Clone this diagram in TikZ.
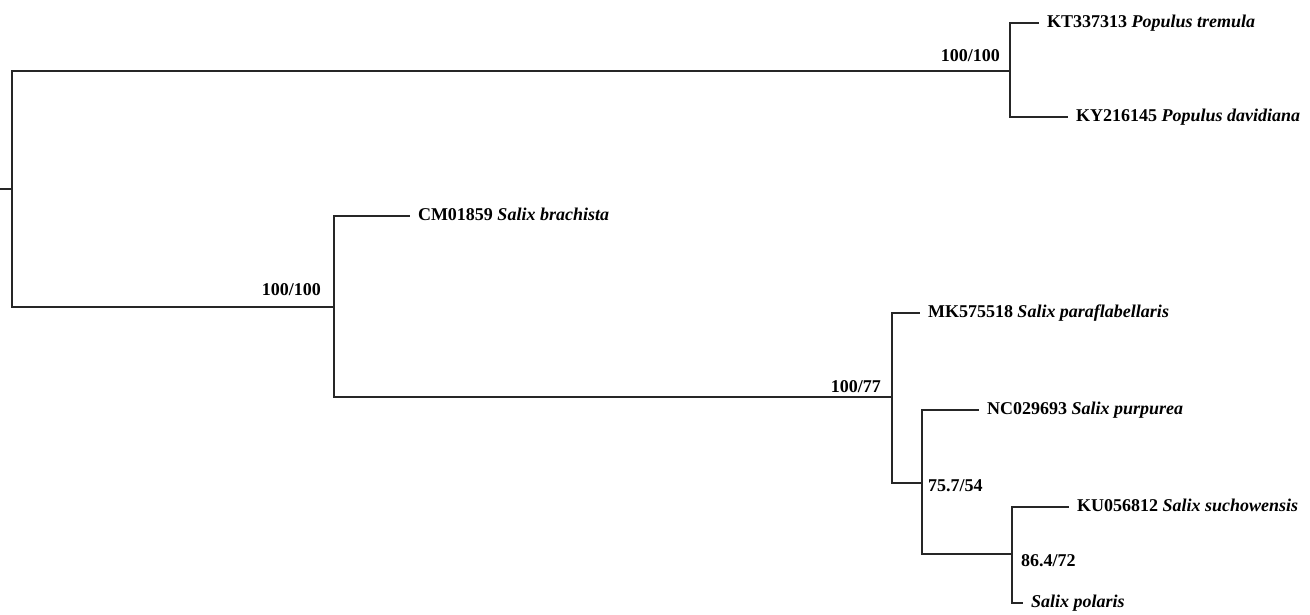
\documentclass[tikz,border=0pt]{standalone}
\usepackage{fontspec}
\setmainfont{Liberation Serif}
\begin{document}
\begin{tikzpicture}[x=1pt,y=-1pt,
  branch/.style={draw=black!85,line width=1.3pt,line cap=rect},
  tip/.style={anchor=west,inner sep=0pt,outer xsep=9pt,text height=12pt,text depth=3pt,
    font=\fontsize{18}{21}\selectfont\bfseries},
  support/.style={inner sep=0pt,font=\fontsize{18}{21}\selectfont\bfseries}]
\useasboundingbox (0,0) rectangle (1310,614);
% internal nodes
\coordinate (stub) at (0,189);
\coordinate (root) at (12,189);
\coordinate (P) at (1010,71);
\coordinate (A) at (334,307);
\coordinate (B) at (892,397);
\coordinate (C) at (922,483);
\coordinate (D) at (1012,554);
% tips
\node[tip] (t1) at (1038,23) {KT337313 \textit{Populus tremula}};
\node[tip] (t2) at (1067,117) {KY216145 \textit{Populus davidiana}};
\node[tip] (t3) at (409,216) {CM01859 \textit{Salix brachista}};
\node[tip] (t4) at (919,313) {MK575518 \textit{Salix paraflabellaris}};
\node[tip] (t5) at (978,410) {NC029693 \textit{Salix purpurea}};
\node[tip] (t6) at (1068,507) {KU056812 \textit{Salix suchowensis}};
\node[tip] (t7) at (1022,603) {\textit{Salix polaris}};
% branches
\draw[branch] (stub) -- (root);
\draw[branch] (root) |- (P);
\draw[branch] (root) |- (A);
\draw[branch] (P) |- (t1.west);
\draw[branch] (P) |- (t2.west);
\draw[branch] (A) |- (t3.west);
\draw[branch] (A) |- (B);
\draw[branch] (B) |- (t4.west);
\draw[branch] (B) |- (C);
\draw[branch] (C) |- (t5.west);
\draw[branch] (C) |- (D);
\draw[branch] (D) |- (t6.west);
\draw[branch] (D) |- (t7.west);
% support values
\node[support,anchor=base east] (sP) at (1000,61) {100/100};
\node[support,anchor=base east] (sA) at (321,295) {100/100};
\node[support,anchor=base east] (sB) at (881,392) {100/77};
\node[support,anchor=base west] (sC) at (928,491) {75.7/54};
\node[support,anchor=base west] (sD) at (1021,566) {86.4/72};
\end{tikzpicture}
\end{document}
